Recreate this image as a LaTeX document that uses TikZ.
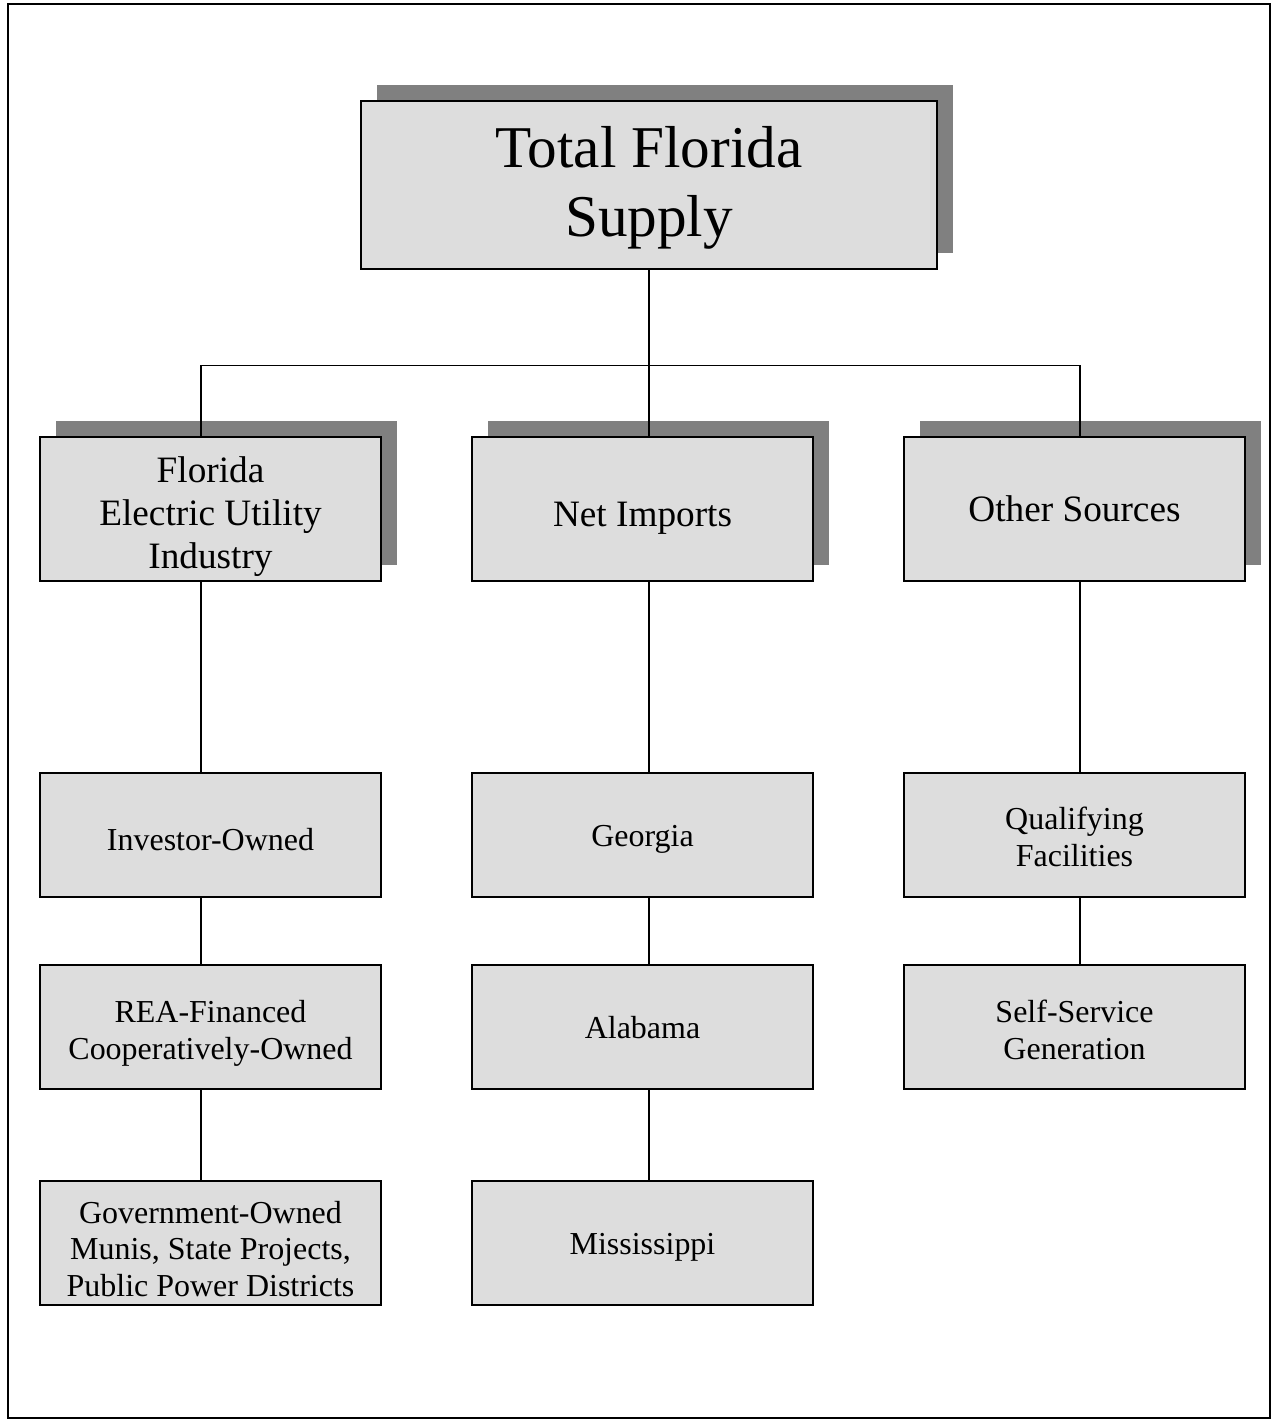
\documentclass[tikz,border=0pt]{standalone}
\usepackage{fontspec}
\setmainfont{Liberation Serif}
\usetikzlibrary{shadows}
\definecolor{boxgray}{RGB}{221,221,221}
\definecolor{shadowgray}{RGB}{128,128,128}

\begin{document}
\begin{tikzpicture}[x=0.02cm,y=-0.02cm,
	box/.style={draw,fill=boxgray,line width=0.8pt,inner sep=0pt,minimum width=6.82cm},
	shadowed/.style={drop shadow={shadow xshift=0.32cm,shadow yshift=0.32cm,fill=shadowgray,opacity=1}},
	headbox/.style={box,shadowed,minimum height=2.88cm},
	subbox/.style={box,minimum height=2.48cm},
	headtext/.style={align=center,inner sep=0pt,font=\fontsize{21.2}{24.5}\selectfont},
	subtext/.style={align=center,inner sep=0pt,font=\fontsize{18.2}{21}\selectfont},
	link/.style={line width=0.8pt}]
	\useasboundingbox (0,0) rectangle (1275,1422);
	\draw[line width=0.8pt] (8,4) rectangle (1270,1418);
	% top
	\node[box,shadowed,minimum width=11.52cm,minimum height=3.36cm] (total) at (649,185) {};
	\node[align=center,inner sep=0pt,font=\fontsize{33.7}{39}\selectfont] (totaltext) at ([yshift=-0.06cm]total.center) {Total Florida\\Supply};
	% second row
	\node[headbox] (utility) at (210.5,509) {};
	\node[headbox] (imports) at (642.5,509) {};
	\node[headbox] (other) at (1074.5,509) {};
	\node[headtext] (utilitytext) at ([yshift=-0.16cm]utility.center) {Florida\\Electric Utility\\Industry};
	\node[headtext] (importstext) at ([yshift=-0.18cm]imports.center) {Net Imports};
	\node[headtext] (othertext) at (other.center) {Other Sources};
	% left column
	\node[subbox] (investor) at (210.5,835) {};
	\node[subbox] (rea) at (210.5,1027) {};
	\node[subbox] (govt) at (210.5,1243) {};
	\node[subtext] (investortext) at ([yshift=-0.1cm]investor.center) {Investor-Owned};
	\node[subtext] (reatext) at ([yshift=-0.12cm]rea.center) {REA-Financed\\Cooperatively-Owned};
	\node[subtext] (govttext) at ([yshift=-0.12cm]govt.center) {Government-Owned\\Munis, State Projects,\\Public Power Districts};
	% middle column
	\node[subbox] (georgia) at (642.5,835) {};
	\node[subbox] (alabama) at (642.5,1027) {};
	\node[subbox] (mississippi) at (642.5,1243) {};
	\node[subtext] (georgiatext) at ([yshift=-0.08cm]georgia.center) {Georgia};
	\node[subtext] (alabamatext) at ([yshift=-0.02cm]alabama.center) {Alabama};
	\node[subtext] (mississippitext) at ([yshift=-0.08cm]mississippi.center) {Mississippi};
	% right column
	\node[subbox] (qualifying) at (1074.5,835) {};
	\node[subbox] (selfservice) at (1074.5,1027) {};
	\node[subtext] (qualifyingtext) at ([yshift=-0.04cm]qualifying.center) {Qualifying\\Facilities};
	\node[subtext] (selfservicetext) at ([yshift=-0.06cm]selfservice.center) {Self-Service\\Generation};
	% connectors
	\draw[link] (total.south) -- ++(0,96) -| ([xshift=-0.19cm]utility.north);
	\draw[link] (total.south) ++(0,96) -| ([xshift=0.11cm]other.north);
	\draw[link] (total.south) -- (total.south |- imports.north);
	\draw[link] ([xshift=-0.19cm]utility.south) -- ([xshift=-0.19cm]investor.north);
	\draw[link] ([xshift=-0.19cm]investor.south) -- ([xshift=-0.19cm]rea.north);
	\draw[link] ([xshift=-0.19cm]rea.south) -- ([xshift=-0.19cm]govt.north);
	\draw[link] ([xshift=0.13cm]imports.south) -- ([xshift=0.13cm]georgia.north);
	\draw[link] ([xshift=0.13cm]georgia.south) -- ([xshift=0.13cm]alabama.north);
	\draw[link] ([xshift=0.13cm]alabama.south) -- ([xshift=0.13cm]mississippi.north);
	\draw[link] ([xshift=0.11cm]other.south) -- ([xshift=0.11cm]qualifying.north);
	\draw[link] ([xshift=0.11cm]qualifying.south) -- ([xshift=0.11cm]selfservice.north);
\end{tikzpicture}
\end{document}
